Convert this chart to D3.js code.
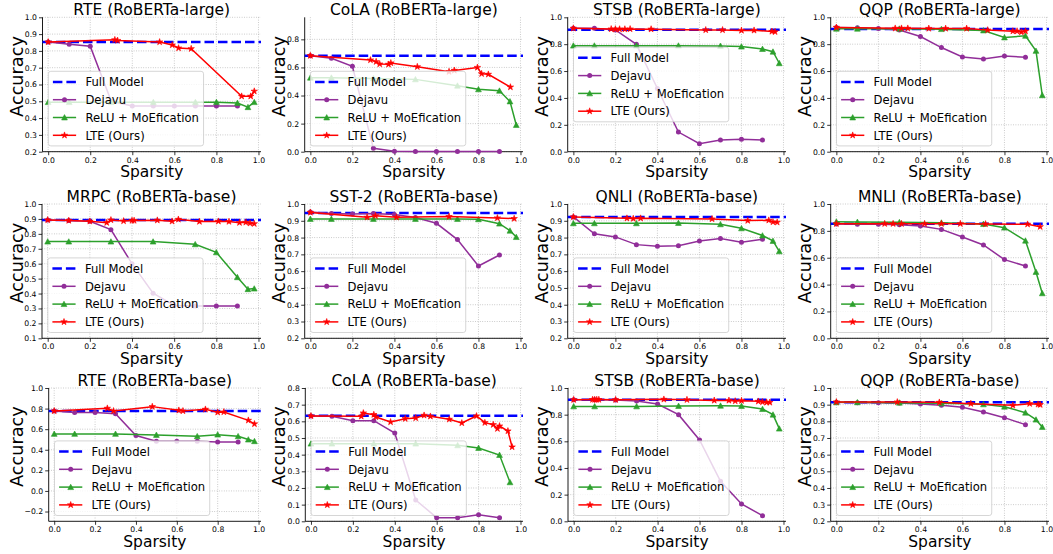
<!DOCTYPE html>
<html>
<head>
<meta charset="utf-8">
<script src="https://cdn.jsdelivr.net/npm/d3@7"></script>
<style>
  body { margin: 0; background: #fff; }
  text { font-family: "DejaVu Sans", sans-serif; }
</style>
</head>
<body>
<svg id="chart" width="1053" height="554"></svg>
<script>
// panel titles, one per subplot (row-major)
const titles = [
  "RTE (RoBERTa-large)", "CoLA (RoBERTa-large)", "STSB (RoBERTa-large)", "QQP (RoBERTa-large)",
  "MRPC (RoBERTa-base)", "SST-2 (RoBERTa-base)", "QNLI (RoBERTa-base)", "MNLI (RoBERTa-base)",
  "RTE (RoBERTa-base)", "CoLA (RoBERTa-base)", "STSB (RoBERTa-base)", "QQP (RoBERTa-base)"
]
const seriesNames = ["Full Model", "Dejavu", "ReLU + MoEfication", "LTE (Ours)"]

const fullModel = [0.853, 0.684, 0.908, 0.9125, 0.893, 0.946, 0.923, 0.853, 0.777, 0.634, 0.9125, 0.914]

const dejavuX = [0, 0.1, 0.2, 0.3, 0.4, 0.5, 0.6, 0.7, 0.8, 0.9]
const dejavuY = [
  [0.853, 0.84, 0.828, 0.50, 0.472, 0.472, 0.472, 0.472, 0.472, 0.472],
  [0.684, 0.665, 0.608, 0.024, 0.004, 0.002, 0.002, 0.002, 0.002, 0.002],
  [0.918, 0.918, 0.906, 0.799, 0.47, 0.146, 0.06, 0.087, 0.092, 0.087],
  [0.925, 0.922, 0.917, 0.905, 0.857, 0.775, 0.705, 0.69, 0.712, 0.702],
  [0.893, 0.889, 0.884, 0.828, 0.60, 0.402, 0.32, 0.317, 0.317, 0.317],
  [0.952, 0.944, 0.94, 0.944, 0.938, 0.92, 0.885, 0.788, 0.631, 0.696],
  [0.923, 0.823, 0.804, 0.758, 0.748, 0.752, 0.78, 0.794, 0.772, 0.79],
  [0.851, 0.849, 0.849, 0.846, 0.836, 0.811, 0.754, 0.695, 0.586, 0.538],
  [0.777, 0.761, 0.761, 0.751, 0.538, 0.483, 0.483, 0.483, 0.476, 0.476],
  [0.632, 0.63, 0.604, 0.604, 0.53, 0.128, 0.022, 0.022, 0.04, 0.022],
  [0.912, 0.912, 0.91, 0.902, 0.88, 0.8, 0.61, 0.3, 0.13, 0.0425],
  [0.914, 0.912, 0.912, 0.91, 0.904, 0.896, 0.884, 0.856, 0.822, 0.78]
]

const reluX = [0, 0.1, 0.3, 0.5, 0.7, 0.8, 0.9, 0.95, 0.98]
const reluY = [
  [0.495, 0.495, 0.495, 0.495, 0.495, 0.495, 0.49, 0.465, 0.495],
  [0.527, 0.527, 0.522, 0.515, 0.47, 0.444, 0.434, 0.358, 0.19],
  [0.789, 0.789, 0.789, 0.789, 0.787, 0.782, 0.764, 0.744, 0.658],
  [0.915, 0.915, 0.915, 0.912, 0.902, 0.85, 0.862, 0.75, 0.42],
  [0.748, 0.748, 0.748, 0.748, 0.73, 0.676, 0.509, 0.429, 0.433],
  [0.911, 0.911, 0.911, 0.911, 0.911, 0.909, 0.883, 0.841, 0.803],
  [0.885, 0.885, 0.885, 0.887, 0.879, 0.855, 0.812, 0.78, 0.718],
  [0.868, 0.866, 0.864, 0.861, 0.851, 0.824, 0.727, 0.494, 0.335],
  [0.554, 0.554, 0.554, 0.544, 0.531, 0.547, 0.531, 0.499, 0.483],
  [0.466, 0.466, 0.466, 0.466, 0.456, 0.44, 0.398, 0.234],
  [0.862, 0.862, 0.862, 0.865, 0.867, 0.865, 0.842, 0.8, 0.695],
  [0.914, 0.914, 0.912, 0.908, 0.902, 0.888, 0.852, 0.81, 0.766]
]

const lteX = [
  [0, 0.317, 0.33, 0.53, 0.59, 0.62, 0.68, 0.92, 0.963, 0.98],
  [0, 0.286, 0.313, 0.33, 0.372, 0.383, 0.509, 0.66, 0.685, 0.795, 0.815, 0.847, 0.952],
  [0, 0.18, 0.2, 0.22, 0.245, 0.27, 0.37, 0.63, 0.71, 0.8, 0.86, 0.945, 0.96],
  [0, 0.28, 0.31, 0.34, 0.44, 0.52, 0.62, 0.72, 0.84, 0.86, 0.88, 0.9],
  [0, 0.1, 0.2, 0.28, 0.3, 0.36, 0.4, 0.41, 0.52, 0.59, 0.62, 0.72, 0.81, 0.86, 0.91, 0.94, 0.96, 0.98],
  [0, 0.27, 0.31, 0.41, 0.66, 0.89, 0.97],
  [0, 0.255, 0.285, 0.32, 0.66, 0.83, 0.93, 0.95, 0.97],
  [0, 0.23, 0.27, 0.31, 0.42, 0.5, 0.59, 0.71, 0.91, 0.97],
  [0, 0.26, 0.29, 0.48, 0.61, 0.63, 0.74, 0.8, 0.83, 0.95, 0.98],
  [0, 0.24, 0.25, 0.3, 0.31, 0.38, 0.45, 0.5, 0.54, 0.57, 0.66, 0.72, 0.79, 0.83, 0.87, 0.89, 0.9, 0.94, 0.96],
  [0, 0.09, 0.1, 0.11, 0.12, 0.2, 0.43, 0.54, 0.67, 0.74, 0.77, 0.8, 0.88, 0.9, 0.92, 0.935],
  [0, 0.29, 0.49, 0.64, 0.84, 0.92, 0.96, 0.97]
]
const lteY = [
  [0.853, 0.866, 0.862, 0.853, 0.835, 0.817, 0.813, 0.53, 0.53, 0.56],
  [0.684, 0.653, 0.641, 0.624, 0.622, 0.632, 0.605, 0.57, 0.579, 0.6, 0.555, 0.551, 0.46],
  [0.918, 0.913, 0.912, 0.912, 0.912, 0.913, 0.912, 0.906, 0.906, 0.902, 0.903, 0.895, 0.892],
  [0.925, 0.918, 0.918, 0.918, 0.917, 0.917, 0.917, 0.905, 0.897, 0.897, 0.89, 0.897],
  [0.893, 0.889, 0.884, 0.875, 0.893, 0.886, 0.889, 0.889, 0.891, 0.884, 0.897, 0.882, 0.884, 0.882, 0.875, 0.877, 0.871, 0.868],
  [0.95, 0.921, 0.93, 0.921, 0.925, 0.917, 0.913],
  [0.923, 0.915, 0.913, 0.915, 0.911, 0.901, 0.903, 0.893, 0.891],
  [0.853, 0.853, 0.853, 0.853, 0.853, 0.853, 0.853, 0.851, 0.849, 0.831],
  [0.777, 0.803, 0.777, 0.819, 0.783, 0.777, 0.793, 0.764, 0.767, 0.686, 0.651],
  [0.632, 0.63, 0.65, 0.64, 0.626, 0.596, 0.616, 0.62, 0.636, 0.63, 0.612, 0.59, 0.632, 0.592, 0.58, 0.556, 0.572, 0.542, 0.446],
  [0.912, 0.913, 0.913, 0.913, 0.913, 0.912, 0.915, 0.912, 0.907, 0.907, 0.902, 0.905, 0.9, 0.895, 0.892, 0.892],
  [0.916, 0.916, 0.914, 0.906, 0.896, 0.906, 0.902, 0.9]
]

// y limits and tick values per panel
const yLims = [[0.2, 1], [0, 0.957], [0, 1], [0, 1], [0.1, 1], [0.2, 1], [0.2, 1], [0, 1], [-0.295, 1], [0, 0.8], [0, 1], [0.2, 1]]
const yTickStep = [0.1, 0.2, 0.2, 0.2, 0.1, 0.1, 0.1, 0.2, 0.2, 0.1, 0.2, 0.1]
const xTicks = [0, 0.2, 0.4, 0.6, 0.8, 1.0]
const legendLoc = ["lower", "lower", "center", "lower", "lower", "lower", "lower", "lower", "lower", "lower", "lower", "lower"]

const colors = { full: "#0000ff", dejavu: "#912e99", relu: "#2ca02c", lte: "#ff0000" }

// layout
const colLeft = [[42.5, 304.7, 567.7, 830.7], [42, 304.7, 567.7, 830.7], [48.7, 305.3, 568, 830.7]]
const colRight = [261, 523, 786, 1049]
const rowTop = [17.3, 204, 388], rowBottom = [151.7, 338.3, 521.3]

const svg = d3.select("#chart")
svg.append("rect").attr("width", 1053).attr("height", 554).attr("fill", "#fff")

const fmt = d3.format(".1f")

function starPath(R) {
  const r = R * 0.382, pts = []
  for (let k = 0; k < 10; k++) {
    const a = -Math.PI / 2 + k * Math.PI / 5, rr = k % 2 ? r : R
    pts.push([rr * Math.cos(a), rr * Math.sin(a)])
  }
  return "M" + pts.map(p => p.join(",")).join("L") + "Z"
}
const triPath = s => `M0,${-s}L${-s},${s * 0.85}L${s},${s * 0.85}Z`

function drawMarkers(g, pts, kind, color) {
  if (kind === "circle") {
    g.selectAll(null).data(pts).enter().append("circle")
      .attr("cx", d => d[0]).attr("cy", d => d[1]).attr("r", 2.5).attr("fill", color)
  } else {
    const p = kind === "tri" ? triPath(2.9) : starPath(3.4)
    g.selectAll(null).data(pts).enter().append("path")
      .attr("d", p).attr("transform", d => `translate(${d[0]},${d[1]})`)
      .attr("fill", color).attr("stroke", color).attr("stroke-width", 0.6)
  }
}

titles.forEach((title, i) => {
  const row = Math.floor(i / 4), col = i % 4
  const left = colLeft[row][col], right = colRight[col]
  const top = rowTop[row], bottom = rowBottom[row]

  const x = d3.scaleLinear().domain([-0.027, 1.012]).range([left, right])
  const y = d3.scaleLinear().domain(yLims[i]).range([bottom, top])
  const step = yTickStep[i]
  const yTicks = d3.range(Math.ceil(yLims[i][0] / step - 1e-6), Math.floor(yLims[i][1] / step + 1e-6) + 1)
    .map(k => +(k * step).toFixed(2))

  const g = svg.append("g")

  // grid
  g.append("g").selectAll("line").data(xTicks).enter().append("line")
    .attr("x1", d => x(d)).attr("x2", d => x(d)).attr("y1", top).attr("y2", bottom)
    .attr("stroke", "#b0b0b0").attr("stroke-width", 0.8).attr("stroke-dasharray", "0.8,1.6")
  g.append("g").selectAll("line").data(yTicks).enter().append("line")
    .attr("x1", left).attr("x2", right).attr("y1", d => y(d)).attr("y2", d => y(d))
    .attr("stroke", "#b0b0b0").attr("stroke-width", 0.8).attr("stroke-dasharray", "0.8,1.6")

  // axes
  const xa = g.append("g").attr("transform", `translate(0,${bottom})`)
    .call(d3.axisBottom(x).tickValues(xTicks).tickFormat(fmt).tickSize(3.5).tickPadding(2.2))
  const ya = g.append("g").attr("transform", `translate(${left},0)`)
    .call(d3.axisLeft(y).tickValues(yTicks).tickFormat(fmt).tickSize(3.5).tickPadding(2))
  ;[xa, ya].forEach(a => {
    a.select(".domain").attr("stroke", "#000").attr("stroke-width", 0.9)
    a.selectAll(".tick line").attr("stroke", "#000").attr("stroke-width", 0.8)
    a.selectAll(".tick text").attr("font-size", 7.7).attr("font-family", "DejaVu Sans").attr("fill", "#000")
  })
  xa.select(".domain").attr("d", `M${left},0H${right}`)
  ya.select(".domain").attr("d", `M0,${bottom}V${top}`)

  // series
  const line = d3.line().x(d => d[0]).y(d => d[1])
  const plot = g.append("g")
  plot.append("line").attr("x1", left).attr("x2", right)
    .attr("y1", y(fullModel[i])).attr("y2", y(fullModel[i]))
    .attr("stroke", colors.full).attr("stroke-width", 2.5).attr("stroke-dasharray", "9.5,4")

  const dj = dejavuY[i].map((v, k) => [x(dejavuX[k]), y(v)])
  plot.append("path").attr("d", line(dj)).attr("fill", "none").attr("stroke", colors.dejavu).attr("stroke-width", 1.5)
  drawMarkers(plot, dj, "circle", colors.dejavu)

  const rl = reluY[i].map((v, k) => [x(reluX[k]), y(v)])
  plot.append("path").attr("d", line(rl)).attr("fill", "none").attr("stroke", colors.relu).attr("stroke-width", 1.5)
  drawMarkers(plot, rl, "tri", colors.relu)

  const lt = lteY[i].map((v, k) => [x(lteX[i][k]), y(v)])
  plot.append("path").attr("d", line(lt)).attr("fill", "none").attr("stroke", colors.lte).attr("stroke-width", 1.5)
  drawMarkers(plot, lt, "star", colors.lte)

  // labels
  g.append("text").attr("x", (left + right) / 2).attr("y", top - 2.3)
    .attr("text-anchor", "middle").attr("font-size", 15.5).text(title)
  g.append("text").attr("x", (left + right) / 2).attr("y", bottom + 25.5)
    .attr("text-anchor", "middle").attr("font-size", 15.5).text("Sparsity")
  const lx = colLeft[0][col] - 19.7, ly = (top + bottom) / 2 - 8
  g.append("text").attr("transform", `translate(${lx},${ly}) rotate(-90)`)
    .attr("text-anchor", "middle").attr("font-size", 17.7).text("Accuracy")

  // legend
  const fs = 11.6, pad = 4.6, rowH = 17.8, hLen = 23.2, gap = 9.3
  const lg = g.append("g")
  const box = lg.append("rect")
  const texts = seriesNames.map((s, k) => lg.append("text").attr("font-size", fs).text(s))
  const tw = d3.max(texts, t => t.node().getComputedTextLength())
  const lw = pad * 2 + hLen + gap + tw, lh = pad * 2 + 4 * 12 + 3 * 5.8
  const lx0 = left + 5.8
  const ly0 = legendLoc[i] === "lower" ? bottom - 5.8 - lh : (top + bottom) / 2 - lh / 2
  box.attr("x", lx0).attr("y", ly0).attr("width", lw).attr("height", lh).attr("rx", 2.5)
    .attr("fill", "#fff").attr("fill-opacity", 0.8).attr("stroke", "#cccccc").attr("stroke-width", 0.8)
  const kinds = [null, "circle", "tri", "star"]
  const cols = [colors.full, colors.dejavu, colors.relu, colors.lte]
  texts.forEach((t, k) => {
    const cy = ly0 + pad + 6 + k * rowH
    t.attr("x", lx0 + pad + hLen + gap).attr("y", cy + 4.2)
    const ln = lg.insert("line", "text").attr("x1", lx0 + pad).attr("x2", lx0 + pad + hLen)
      .attr("y1", cy).attr("y2", cy).attr("stroke", cols[k])
    if (k === 0) ln.attr("stroke-width", 2.5).attr("stroke-dasharray", "9.5,4")
    else {
      ln.attr("stroke-width", 1.5)
      drawMarkers(lg, [[lx0 + pad + hLen / 2, cy]], kinds[k], cols[k])
    }
  })
})
</script>
</body>
</html>
